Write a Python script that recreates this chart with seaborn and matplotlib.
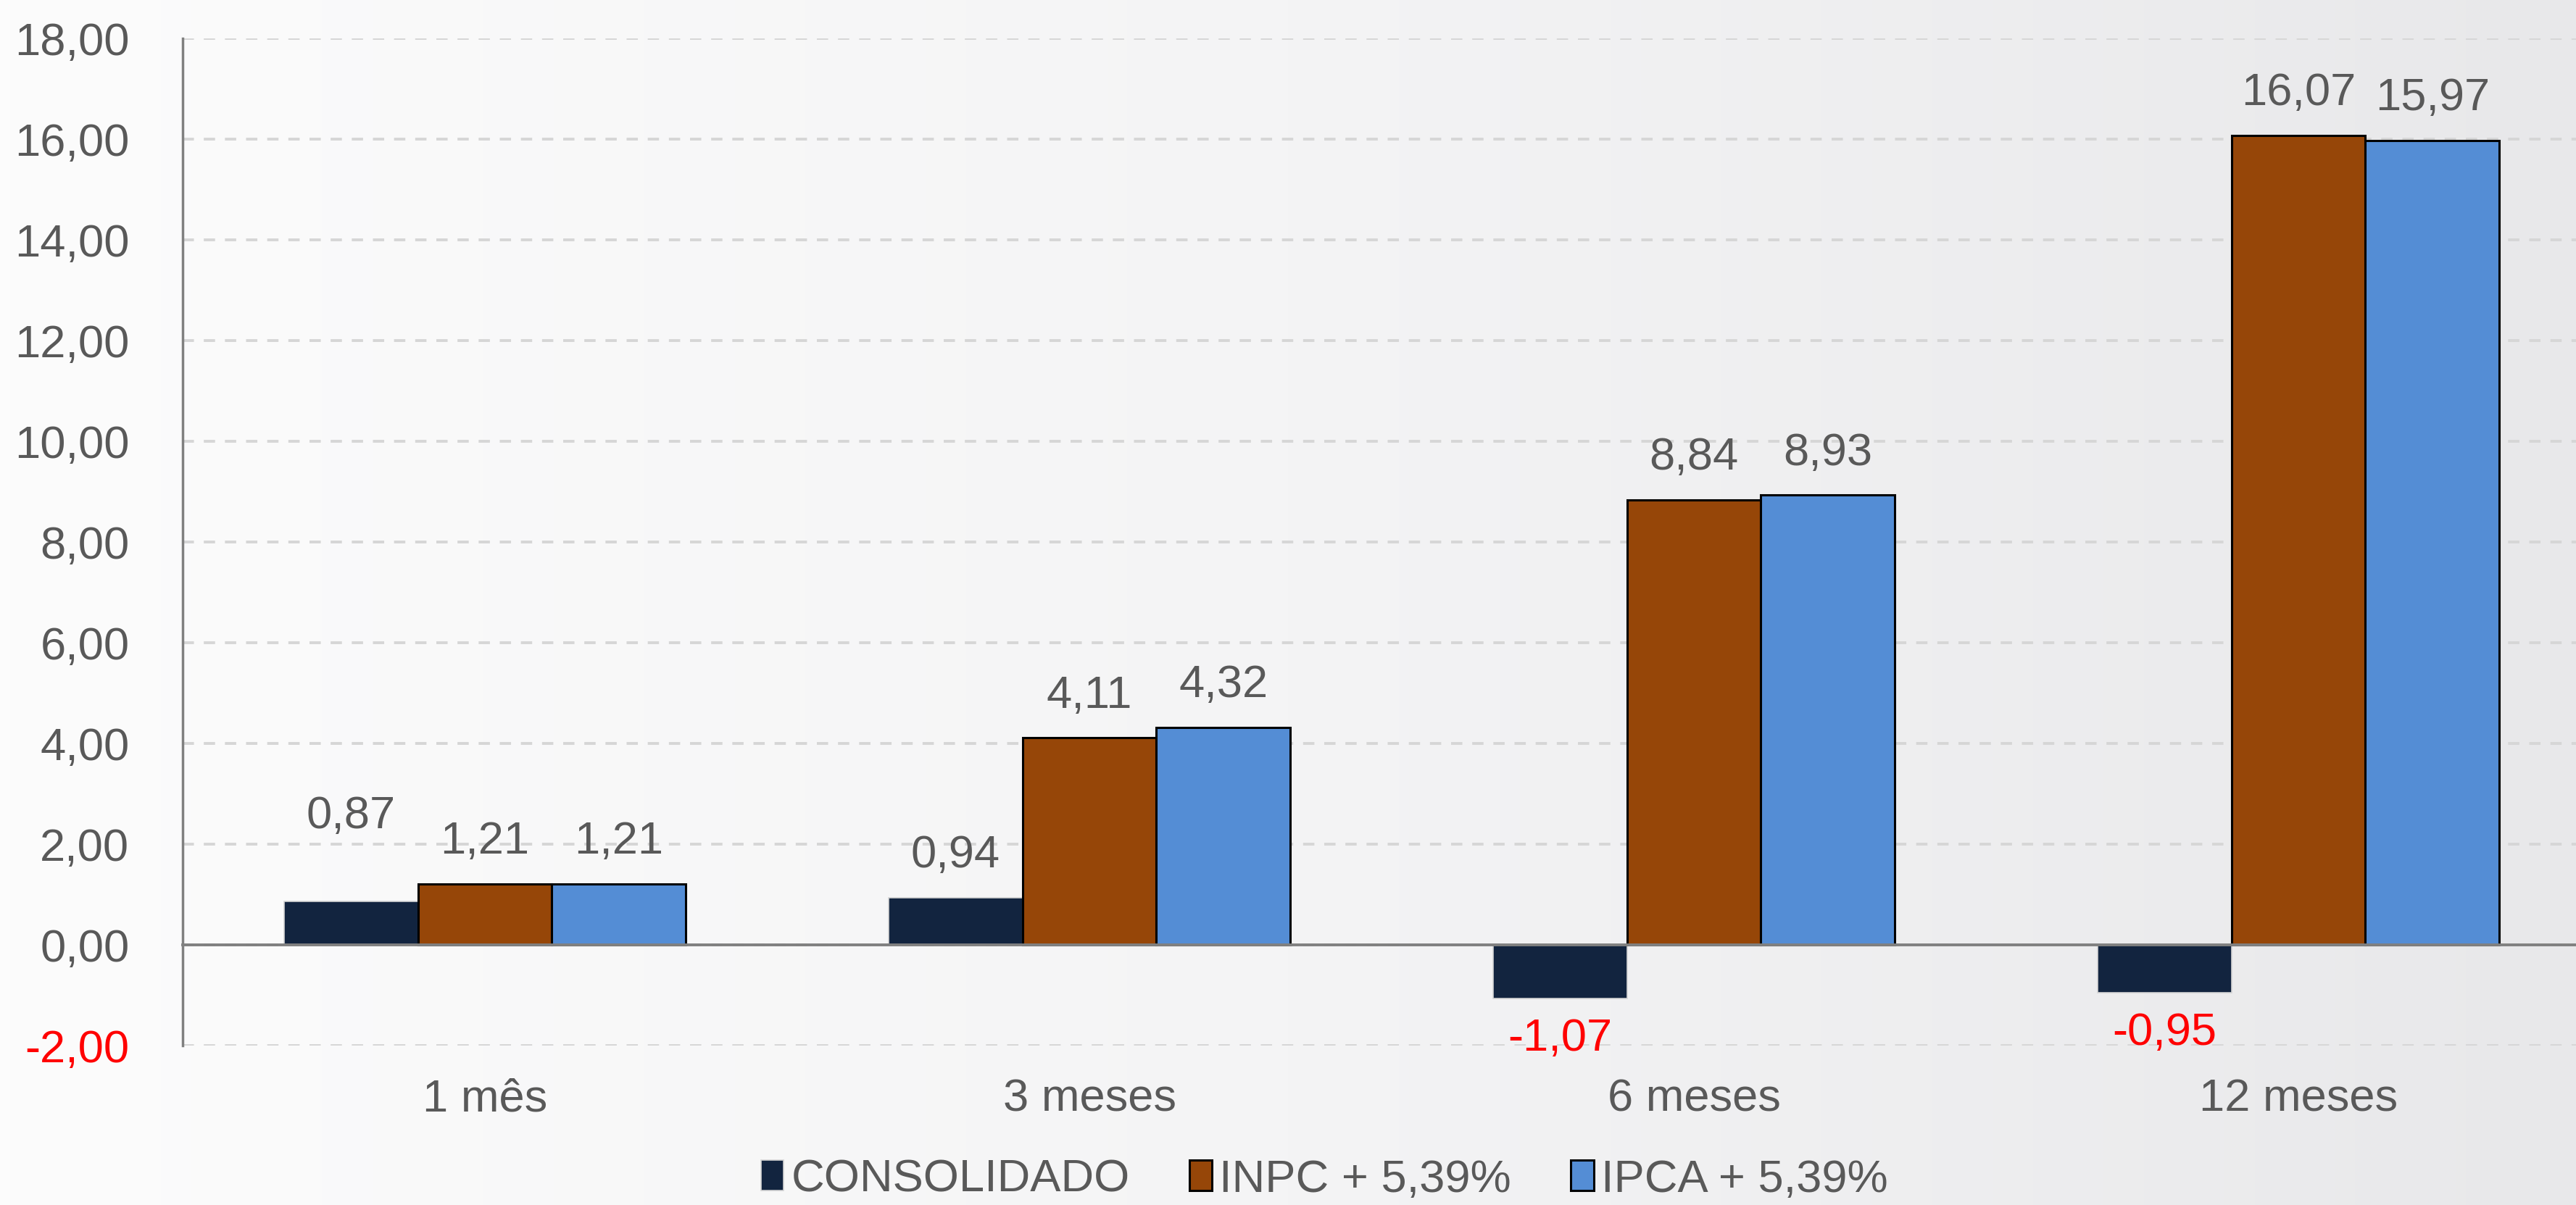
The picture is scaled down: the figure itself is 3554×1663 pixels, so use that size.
import matplotlib
matplotlib.use('Agg')
import matplotlib.pyplot as plt
from matplotlib.colors import LinearSegmentedColormap
from matplotlib.patches import Patch
import numpy as np
import pandas as pd
import seaborn as sns

periodos = ['1 mês', '3 meses', '6 meses', '12 meses']
series = ['CONSOLIDADO', 'INPC + 5,39%', 'IPCA + 5,39%']
consolidado = [0.87, 0.94, -1.07, -0.95]
inpc = [1.21, 4.11, 8.84, 16.07]
ipca = [1.21, 4.32, 8.93, 15.97]
cores = ['#12243F', '#964608', '#548DD5']
bordas = ['#D4D4D4', '#000000', '#000000']

df = pd.DataFrame({
    'periodo': periodos * len(series),
    'serie': [s for s in series for _ in periodos],
    'valor': consolidado + inpc + ipca,
})

sns.set_theme(style='white')
plt.rcParams['font.family'] = ['Liberation Sans', 'DejaVu Sans']
cinza = '#595959'
eixo = '#808080'
fs = 45.5

fig = plt.figure(figsize=(35.55, 16.63), dpi=100)

# fundo em degradê (claro à esquerda, cinza à direita)
bg = fig.add_axes([0, 0, 1, 1], zorder=-10)
cmap_bg = LinearSegmentedColormap.from_list('bg', ['#FCFCFC', '#F4F4F5', '#E8E8EA'])
bg.imshow(np.linspace(0, 1, 512).reshape(1, -1), cmap=cmap_bg, aspect='auto',
          extent=[0, 1, 0, 1])
bg.axis('off')

ax = fig.add_axes([0.0709, 0.1323, 0.9384, 0.8358])
ax.set_facecolor('none')

sns.barplot(data=df, x='periodo', y='valor', hue='serie', palette=cores,
            width=0.665, saturation=1, errorbar=None, ax=ax)

for cont, borda in zip(ax.containers, bordas):
    for p in cont:
        p.set_edgecolor(borda)
        p.set_linewidth(2.2 if borda == '#000000' else 1.2)

# rótulos de valores
for i, cont in enumerate(ax.containers):
    for j, p in enumerate(cont):
        v = p.get_height()
        x = p.get_x() + p.get_width() / 2
        txt = f'{v:.2f}'.replace('.', ',')
        if v < 0:
            ax.annotate(txt, (x, v), xytext=(0, -40), textcoords='offset points',
                        ha='center', va='center', fontsize=fs, color='#FF0000')
        else:
            base = v
            extra = 42
            if i == 0 and abs(inpc[j] - v) < 0.5:
                base = max(v, inpc[j])
                extra = 67
            ax.annotate(txt, (x, base), xytext=(0, extra), textcoords='offset points',
                        ha='center', va='center', fontsize=fs, color=cinza)

ax.set_ylim(-2, 18)
yt = np.arange(-2, 19, 2)
ax.set_yticks(yt)
ax.set_yticklabels([f'{t:.2f}'.replace('.', ',') for t in yt])

ax.yaxis.grid(True, color='#D6D6D6', lw=2.8, linestyle=(0, (4, 3.5)))
ax.set_axisbelow(True)

ax.spines['top'].set_visible(False)
ax.spines['right'].set_visible(False)
ax.spines['left'].set_color(eixo)
ax.spines['left'].set_linewidth(2.5)
ax.spines['bottom'].set_position(('data', 0))
ax.spines['bottom'].set_color(eixo)
ax.spines['bottom'].set_linewidth(2.8)

ax.set_xlim(-0.5, len(periodos) - 0.5)
ax.set_xticks(range(len(periodos)))
ax.set_xticklabels(periodos)
ax.set_xticks(np.arange(len(periodos) - 1) + 0.5, minor=True)
ax.tick_params(axis='x', which='major', length=0, pad=132, labelsize=fs, labelcolor=cinza)
ax.tick_params(axis='x', which='minor', length=13, width=2.5, color=eixo, direction='out')
ax.tick_params(axis='y', length=13, width=2.5, color=eixo, direction='out', pad=40,
               labelsize=fs)
for t, lab in zip(yt, ax.get_yticklabels()):
    lab.set_color('#FF0000' if t < 0 else cinza)
ax.set_xlabel('')
ax.set_ylabel('')

ax.get_legend().remove()
handles = [Patch(facecolor=c, edgecolor=b, lw=2.2 if b == '#000000' else 1.2)
           for c, b in zip(cores, bordas)]
fig.legend(handles, series, loc='center', bbox_to_anchor=(0.514, 0.021), ncol=3,
           frameon=False, fontsize=fs, labelcolor=cinza, handlelength=0.5,
           handleheight=0.65, handletextpad=0.16, columnspacing=1.3)

fig.savefig('out.png', dpi=100)
